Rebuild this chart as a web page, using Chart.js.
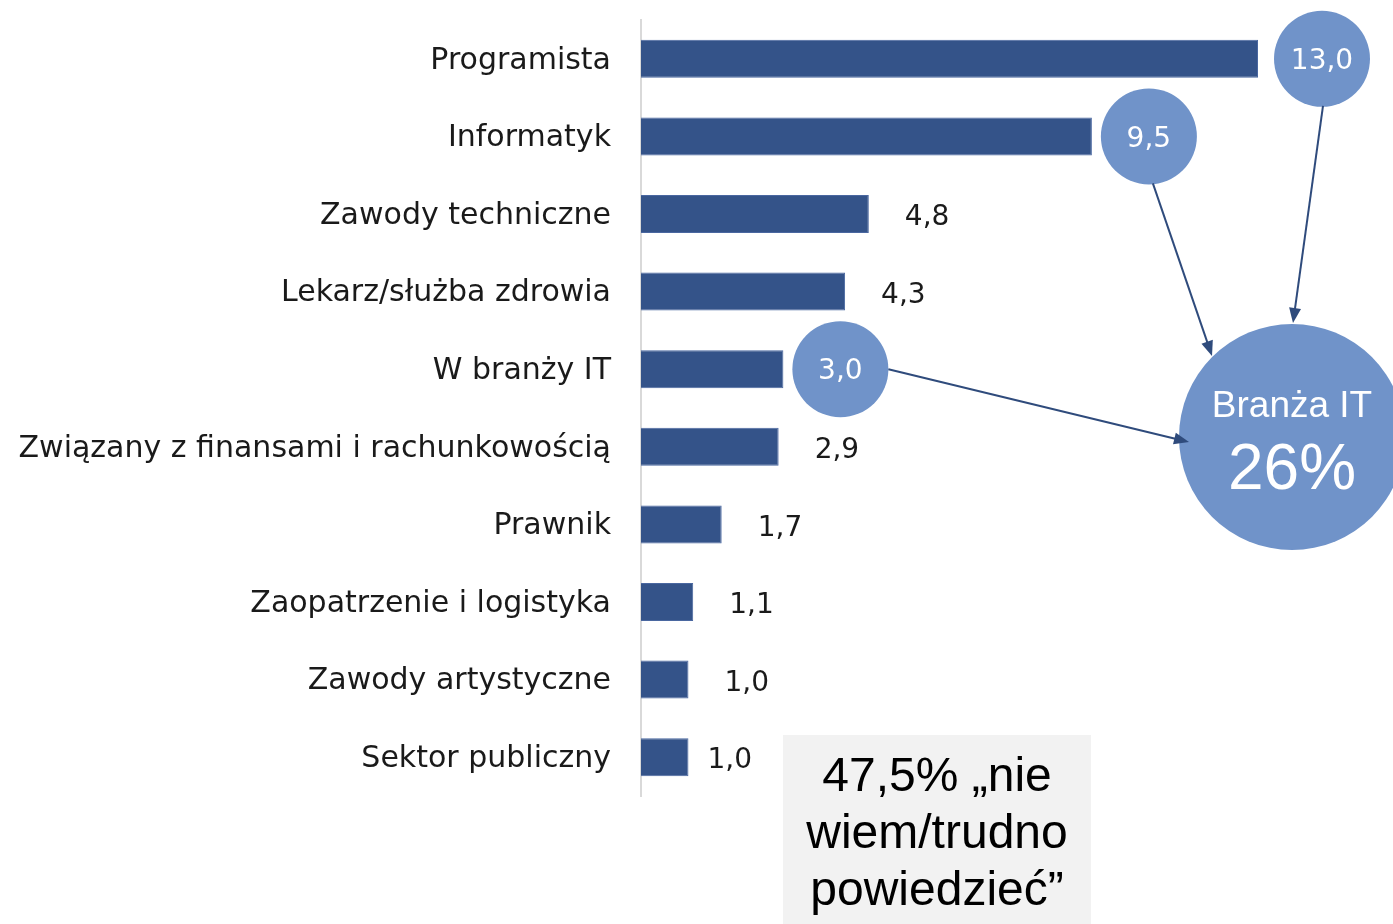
<!DOCTYPE html>
<html lang="pl">
<head>
<meta charset="UTF-8">
<title>Zawody</title>
<script src="https://cdn.jsdelivr.net/npm/chart.js"></script>
<style>
  html, body { margin: 0; padding: 0; background: #fff; }
  #wrap { width: 1393px; height: 924px; position: relative; }
</style>
</head>
<body>
<div id="wrap"><canvas id="chart"></canvas></div>
<script>
const categories = ['Programista', 'Informatyk', 'Zawody techniczne', 'Lekarz/służba zdrowia', 'W branży IT',
  'Związany z finansami i rachunkowością', 'Prawnik', 'Zaopatrzenie i logistyka', 'Zawody artystyczne', 'Sektor publiczny'];
const values = [13.0, 9.5, 4.8, 4.3, 3.0, 2.9, 1.7, 1.1, 1.0, 1.0];
// bars whose value is shown in a bubble and counted into "Branża IT"
const itBars = ['Programista', 'Informatyk', 'W branży IT'];
const itShare = '26%';
const noAnswer = ['47,5% „nie', 'wiem/trudno', 'powiedzieć”'];

const labelFont = '"DejaVu Sans", sans-serif';
const fmt = v => v.toFixed(1).replace('.', ',');

function arrow(ctx, x1, y1, x2, y2) {
  const a = Math.atan2(y2 - y1, x2 - x1);
  ctx.strokeStyle = '#2f4b7c';
  ctx.fillStyle = '#2f4b7c';
  ctx.lineWidth = 2;
  ctx.beginPath();
  ctx.moveTo(x1, y1);
  ctx.lineTo(x2 - 12 * Math.cos(a), y2 - 12 * Math.sin(a));
  ctx.stroke();
  ctx.beginPath();
  ctx.moveTo(x2, y2);
  ctx.lineTo(x2 - 15 * Math.cos(a) + 6 * Math.sin(a), y2 - 15 * Math.sin(a) - 6 * Math.cos(a));
  ctx.lineTo(x2 - 15 * Math.cos(a) - 6 * Math.sin(a), y2 - 15 * Math.sin(a) + 6 * Math.cos(a));
  ctx.closePath();
  ctx.fill();
}

const extras = {
  id: 'extras',
  afterDraw(chart) {
    const ctx = chart.ctx;
    const meta = chart.getDatasetMeta(0);
    const xs = chart.scales.x;
    const bubbles = [];
    ctx.save();
    ctx.textBaseline = 'middle';
    meta.data.forEach((bar, i) => {
      const end = xs.getPixelForValue(values[i]);
      if (itBars.includes(categories[i])) {
        const cx = end + (i === 0 ? 64 : 57), cy = bar.y;
        bubbles.push([cx, cy]);
        ctx.fillStyle = '#7093c9';
        ctx.beginPath();
        ctx.arc(cx, cy, 48, 0, Math.PI * 2);
        ctx.fill();
        ctx.fillStyle = '#fff';
        ctx.textAlign = 'center';
        ctx.font = '28px ' + labelFont;
        ctx.fillText(fmt(values[i]), cx, cy + 3);
      } else {
        const off = i === values.length - 1 ? 19 : 36;
        ctx.fillStyle = '#1a1a1a';
        ctx.textAlign = 'left';
        ctx.font = '28px ' + labelFont;
        ctx.fillText(fmt(values[i]), end + off, bar.y + 4);
      }
    });

    // big "Branża IT" bubble
    const bx = 1292, by = 437, br = 113;
    ctx.fillStyle = '#7093c9';
    ctx.beginPath();
    ctx.arc(bx, by, br, 0, Math.PI * 2);
    ctx.fill();
    ctx.fillStyle = '#fff';
    ctx.textAlign = 'center';
    ctx.font = '37px "Liberation Sans", Arial, sans-serif';
    ctx.fillText('Branża IT', bx, by - 30);
    ctx.font = '64px "Liberation Sans", Arial, sans-serif';
    ctx.fillText(itShare, bx, by + 34);

    // arrows from bubbles
    const [p13, p95, p30] = bubbles;
    arrow(ctx, p13[0] + 1, p13[1] + 47, 1293, 323);
    arrow(ctx, p95[0] + 4, p95[1] + 47, 1212, 356);
    arrow(ctx, p30[0] + 48, p30[1], 1189, 442);

    // "nie wiem" box
    ctx.fillStyle = '#f2f2f2';
    ctx.fillRect(783, 735, 308, 189);
    ctx.fillStyle = '#000';
    ctx.font = '48px "Liberation Sans", Arial, sans-serif';
    noAnswer.forEach((t, k) => ctx.fillText(t, 937, 778 + k * 57));
    ctx.restore();
  }
};

new Chart(document.getElementById('chart'), {
  type: 'bar',
  data: {
    labels: categories,
    datasets: [{
      data: values,
      backgroundColor: '#345389',
      borderColor: '#4a67a0',
      borderWidth: 1,
      categoryPercentage: 1,
      barPercentage: 0.49
    }]
  },
  options: {
    indexAxis: 'y',
    responsive: true,
    maintainAspectRatio: false,
    animation: false,
    layout: { padding: { left: 0, right: 135, top: 20, bottom: 128 } },
    plugins: { legend: { display: false }, tooltip: { enabled: false } },
    scales: {
      x: { min: 0, max: 13, display: false },
      y: {
        grid: { display: false },
        border: { display: true, color: '#d9d9d9', width: 2 },
        ticks: { color: '#1a1a1a', padding: 22, labelOffset: 2, font: { family: labelFont, size: 30 } },
        afterFit(scale) {
          scale.width = 641;
          scale.paddingTop = 0;
          scale.paddingBottom = 0;
        }
      }
    }
  },
  plugins: [extras]
});
</script>
</body>
</html>
